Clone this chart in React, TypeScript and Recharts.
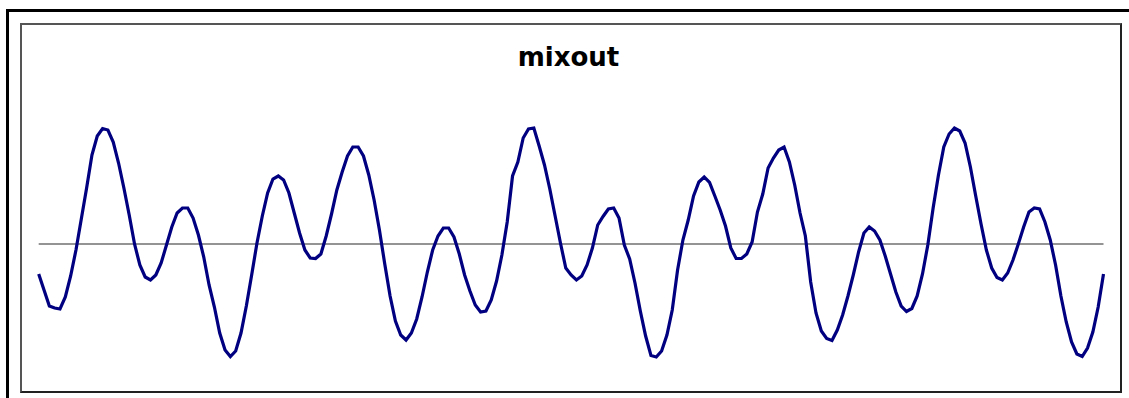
import React from "react";
import { LineChart, Line, XAxis, YAxis, ReferenceLine } from "recharts";

const chartTitle = "mixout";

// sample values (three stretches of the signal)
const stretchA = [
  -30, -46, -62, -64, -65, -53, -32, -6, 25, 56, 89, 108, 115.5, 114, 102, 81, 56, 29, 0, -21,
  -33, -36, -31, -19, -1, 17, 31, 36, 36, 26, 9, -13, -41, -63, -89, -106, -112.5, -107, -89, -62,
  -31, 1, 28, 51, 65, 68, 64, 51, 31, 11, -6, -14, -14.5, -10, 8, 30, 54, 72, 88, 97,
  97, 88, 69, 44, 14, -20, -52, -77, -91, -96, -89, -75, -53, -28, -6, 8, 16, 16, 7, -10,
];
const stretchB = [
  -31, -47, -61, -68, -67, -56, -37, -11, 22, 68, 82, 106, 115, 116, 98, 79, 55, 28, 1, -24,
  -31, -36, -32, -21, -4, 19, 27.5, 35, 36, 26, -1, -15, -39, -67, -92, -111.5, -113, -107, -91, -66,
  -26, 4, 24, 48, 62, 67, 61.5, 48, 34, 18, -4, -14.5, -14.5, -10, 2, 32, 50, 76, 86, 94,
  97, 82, 59, 31, 8, -38, -69, -87, -94.5, -96.5, -86, -71, -52, -31, -8, 11, 17, 13, 4, -12,
];
const stretchC = [
  -30, -48, -62, -67.5, -64.5, -52, -30, -1, 36, 69, 97, 110, 116, 113, 101, 77, 48, 20, -6, -24,
  -33.5, -36, -29, -16, 0, 17, 32, 36, 35, 22, 4, -21, -52, -78, -98, -110, -112.5, -104, -88, -63,
  -30,
];

const samples = [...stretchA, ...stretchB, ...stretchC];
const data = samples.map((v, i) => ({ i: i + 1, v }));

export default function App() {
  return (
    <div style={{ position: "absolute", left: 0, top: 0, width: 1129, height: 398, overflow: "hidden", background: "#fff" }}>
      <div
        style={{
          position: "absolute",
          left: 6,
          top: 9,
          width: 1140,
          height: 400,
          border: "3px solid #000",
          boxSizing: "border-box",
        }}
      />
      <div
        style={{
          position: "absolute",
          left: 20,
          top: 23,
          width: 1102,
          height: 370,
          borderTop: "2px solid #555",
          borderLeft: "2px solid #555",
          borderRight: "2px solid #222",
          borderBottom: "2px solid #222",
          boxSizing: "border-box",
        }}
      />
      <svg style={{ position: "absolute", left: 0, top: 0 }} width={1129} height={398}>
        <text
          x={568.5}
          y={66}
          textAnchor="middle"
          fontFamily="DejaVu Sans, Verdana, sans-serif"
          fontWeight="bold"
          fontSize={26}
          fill="#000"
        >
          {chartTitle}
        </text>
      </svg>
      <div style={{ position: "absolute", left: 0, top: 0 }}>
        <LineChart
          width={1129}
          height={398}
          data={data}
          margin={{ top: 114, right: 25.5, bottom: 24, left: 38.7 }}
        >
          <XAxis dataKey="i" hide />
          <YAxis hide domain={[-130, 130]} type="number" allowDataOverflow />
          <ReferenceLine y={0} stroke="#707070" strokeWidth={1.5} />
          <Line
            type="linear"
            dataKey="v"
            stroke="#000080"
            strokeWidth={3.2}
            dot={false}
            isAnimationActive={false}
          />
        </LineChart>
      </div>
    </div>
  );
}
